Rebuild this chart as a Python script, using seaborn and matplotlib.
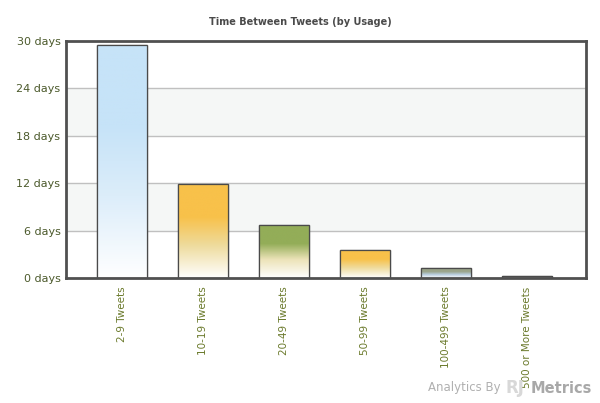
import numpy as np
import pandas as pd
import matplotlib
matplotlib.use("Agg")
import matplotlib.pyplot as plt
import seaborn as sns
from matplotlib.colors import LinearSegmentedColormap

# =====================================
# Data
# =====================================
categories = ["2-9 Tweets", "10-19 Tweets", "20-49 Tweets",
              "50-99 Tweets", "100-499 Tweets", "500 or More Tweets"]
days = [29.5, 11.9, 6.7, 3.6, 1.25, 0.2]
bar_colors = ["#c6e3f8", "#f8c14a", "#93ad58", "#f8c14a", "#9aa48a", "#555555"]
mid_colors = ["#dcedfa", "#eedb9c", "#ece3b8", "#efdc9e", "#b8cde0", "#555555"]
yticks = [0, 6, 12, 18, 24, 30]
ytick_labels = [f"{t} days" for t in yticks]

df = pd.DataFrame({"group": categories, "days": days})

# =====================================
# Figure
# =====================================
sns.set_style("white")
plt.rcParams["font.family"] = ["DejaVu Sans"]

fig = plt.figure(figsize=(6, 4.03), dpi=100)
ax = fig.add_axes([0.11, 0.31, 0.867, 0.588])

sns.barplot(data=df, x="group", y="days", ax=ax, width=0.62,
            color="white", edgecolor="#4a4a4a", linewidth=0.9,
            saturation=1, zorder=2)
bars = list(ax.containers[0])

# alternating bands
ax.axhspan(18, 24, color="#f5f7f6", zorder=0, lw=0)
ax.axhspan(6, 12, color="#f5f7f6", zorder=0, lw=0)
for t in yticks[1:-1]:
    ax.axhline(t, color="#c0c0c0", lw=1, zorder=0.5)

# gradient fills clipped to the bars
for patch, top, mid in zip(bars, bar_colors, mid_colors):
    x0, y0 = patch.get_x(), patch.get_y()
    w, h = patch.get_width(), patch.get_height()
    cmap = LinearSegmentedColormap.from_list(
        "g", [(0, "#ffffff"), (0.35, mid), (0.65, top), (1, top)])
    grad = np.linspace(0, 1, 256).reshape(-1, 1)
    im = ax.imshow(grad, cmap=cmap, aspect="auto", origin="lower",
                   extent=[x0, x0 + w, y0, y0 + h], zorder=2.5)
    im.set_clip_path(patch)
    edge = plt.Rectangle((x0, y0), w, h, fill=False,
                         edgecolor="#4a4a4a", lw=0.9, zorder=3)
    ax.add_patch(edge)

ax.set_xlim(-0.69, 5.73)
ax.set_ylim(0, 30)
ax.set_yticks(yticks)
ax.set_yticklabels(ytick_labels, color="#4c5a2c", fontsize=8)
ax.set_xticks(range(len(categories)))
ax.set_xticklabels(categories, rotation=90, color="#6b7a2c", fontsize=7.5)
ax.tick_params(axis="y", length=0, pad=4)
ax.tick_params(axis="x", length=0, pad=6)
ax.set_xlabel("")
ax.set_ylabel("")

for s in ax.spines.values():
    s.set_color("#505050")
    s.set_linewidth(2)
    s.set_zorder(5)

fig.text(0.5, 0.945, "Time Between Tweets (by Usage)", ha="center",
         va="center", fontsize=7, fontweight="bold", color="#4a4a4a")

fig.text(0.835, 0.022, "Analytics By", ha="right", va="bottom",
         fontsize=8.5, color="#b0b0b0")
fig.text(0.842, 0.016, "RJ", ha="left", va="bottom", fontsize=12,
         fontweight="bold", color="#d8d8d8")
fig.text(0.885, 0.018, "Metrics", ha="left", va="bottom", fontsize=10.5,
         fontweight="bold", color="#a8a8a8")

plt.savefig("out.png", dpi=100)
